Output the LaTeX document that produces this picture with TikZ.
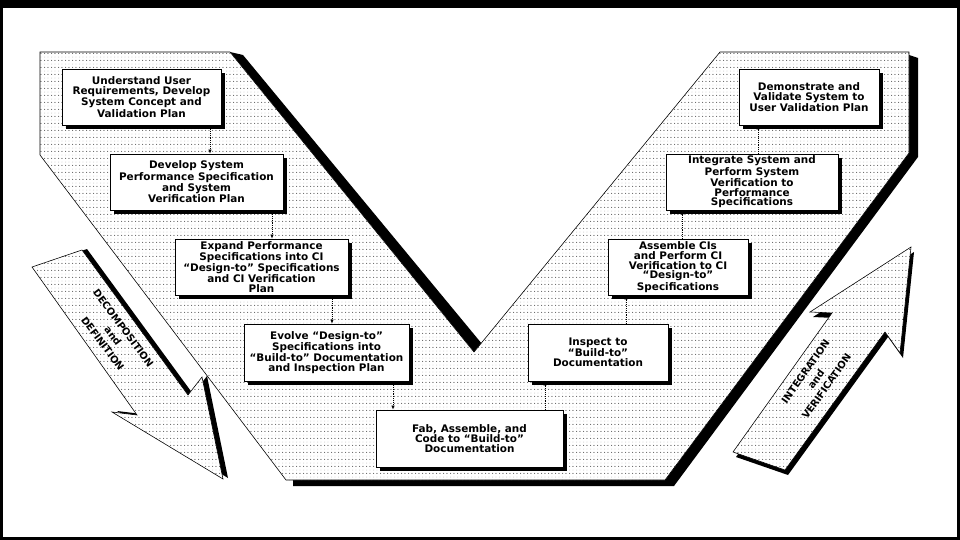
\documentclass[tikz,border=0pt]{standalone}
\usepackage{fontspec}
\setsansfont{DejaVu Sans}
\usetikzlibrary{patterns,shadows,arrows.meta}

\pgfdeclarepatterninherentlycolored{vdots}
  {\pgfpointorigin}{\pgfpoint{6.2pt}{6.2pt}}
  {\pgfpoint{6.2pt}{6.2pt}}
  {%
    \pgfsetfillcolor{black}
    \pgfpathcircle{\pgfpoint{1.55pt}{1.55pt}}{0.45pt}
    \pgfpathcircle{\pgfpoint{4.65pt}{1.55pt}}{0.45pt}
    \pgfusepath{fill}
    \pgfsetfillcolor{black!30}
    \pgfpathcircle{\pgfpoint{1.55pt}{4.65pt}}{0.4pt}
    \pgfpathcircle{\pgfpoint{4.65pt}{4.65pt}}{0.4pt}
    \pgfusepath{fill}
  }

\tikzset{
  stepbox/.style 2 args={draw,fill=white,line width=0.6pt,align=center,inner sep=1pt,
    font=\sffamily\bfseries\fontsize{8.9}{8.3}\selectfont,
    minimum width=#1*0.03cm,minimum height=#2*0.03cm,
    drop shadow={shadow xshift=3.2pt,shadow yshift=-3.2pt,fill=black,opacity=1}},
  flow/.style={densely dotted,line width=0.6pt,-{Latex[length=3.5pt,width=3pt]}},
  vfill/.style={preaction={fill=white},pattern=vdots},
  biglabel/.style={align=center,font=\sffamily\bfseries\fontsize{8.4}{11}\selectfont}
}

\begin{document}
\begin{tikzpicture}[x=0.03cm,y=-0.03cm,line width=0.5pt]
  \useasboundingbox (0,0) rectangle (960,540);
  \fill[black] (0,0) rectangle (960,540);
  \fill[white] (3,8) rectangle (957,537);
  % the V and its shadow
  \fill (230,52) -- (243,55) -- (487,350) -- (478,360) -- (474,352) -- cycle;
  \fill (909,55) -- (918,58) -- (918,157) -- (674,486) -- (293,486) -- (293,480) -- (665,480) -- (909,153) -- cycle;
  \draw[vfill] (40,52) -- (230,52) -- (474,352) -- (720,52) -- (909,52) -- (909,153) -- (665,480) -- (286,480) -- (40,155) -- cycle;
  % block arrows
  \fill[shift={(5,-1)}] (32,267) -- (82,250) -- (188,395) -- (202,377) -- (223,479) -- (112,412) -- (137,415) -- cycle;
  \draw[vfill] (32,267) -- (82,250) -- (188,395) -- (202,377) -- (223,479) -- (112,412) -- (137,415) -- cycle;
  \fill[shift={(3,5)}] (733,452) -- (785,470) -- (885,332) -- (900,353) -- (911,247) -- (810,312) -- (832,313) -- cycle;
  \draw[vfill] (733,452) -- (785,470) -- (885,332) -- (900,353) -- (911,247) -- (810,312) -- (832,313) -- cycle;
  \node[biglabel,rotate=-53.3] (decomp) at (113,336) {DECOMPOSITION\\and\\DEFINITION};
  \node[biglabel,rotate=54.5] (integ) at (816,379) {INTEGRATION\\and\\VERIFICATION};
  % left leg
  \node[stepbox={159}{56}] (user) at (141.5,97) {Understand User\\Requirements, Develop\\System Concept and\\Validation Plan};
  \node[stepbox={173}{56}] (sysperf) at (196.5,182) {Develop System\\Performance Specification\\and System\\Verification Plan};
  \node[stepbox={173}{56}] (ciexp) at (261.5,267) {Expand Performance\\Specifications into CI\\“Design-to” Specifications\\and CI Verification\\Plan};
  \node[stepbox={165}{57}] (evolve) at (326.5,352.5) {Evolve “Design-to”\\Specifications into\\“Build-to” Documentation\\and Inspection Plan};
  \node[stepbox={187}{57}] (fab) at (469.5,438.5) {Fab, Assemble, and\\Code to “Build-to”\\Documentation};
  % right leg
  \node[stepbox={140}{57}] (inspect) at (598,352.5) {Inspect to\\“Build-to”\\Documentation};
  \node[stepbox={140}{56}] (ciasm) at (678,267) {Assemble CIs\\and Perform CI\\Verification to CI\\“Design-to”\\Specifications};
  \node[stepbox={172}{56}] (sysint) at (752,182) {Integrate System and\\Perform System\\Verification to\\Performance\\Specifications};
  \node[stepbox={140}{56}] (demo) at (809,97) {Demonstrate and\\Validate System to\\User Validation Plan};
  \foreach \a/\b/\x in {user/sysperf/210,sysperf/ciexp/272,ciexp/evolve/332,evolve/fab/393}
    \draw[flow] (\a.south -| \x,0) -- (\b.north -| \x,0);
  \foreach \a/\b/\x in {fab/inspect/545,inspect/ciasm/626,ciasm/sysint/682,sysint/demo/758}
    \draw[flow] (\a.north -| \x,0) -- (\b.south -| \x,0);
\end{tikzpicture}
\end{document}
